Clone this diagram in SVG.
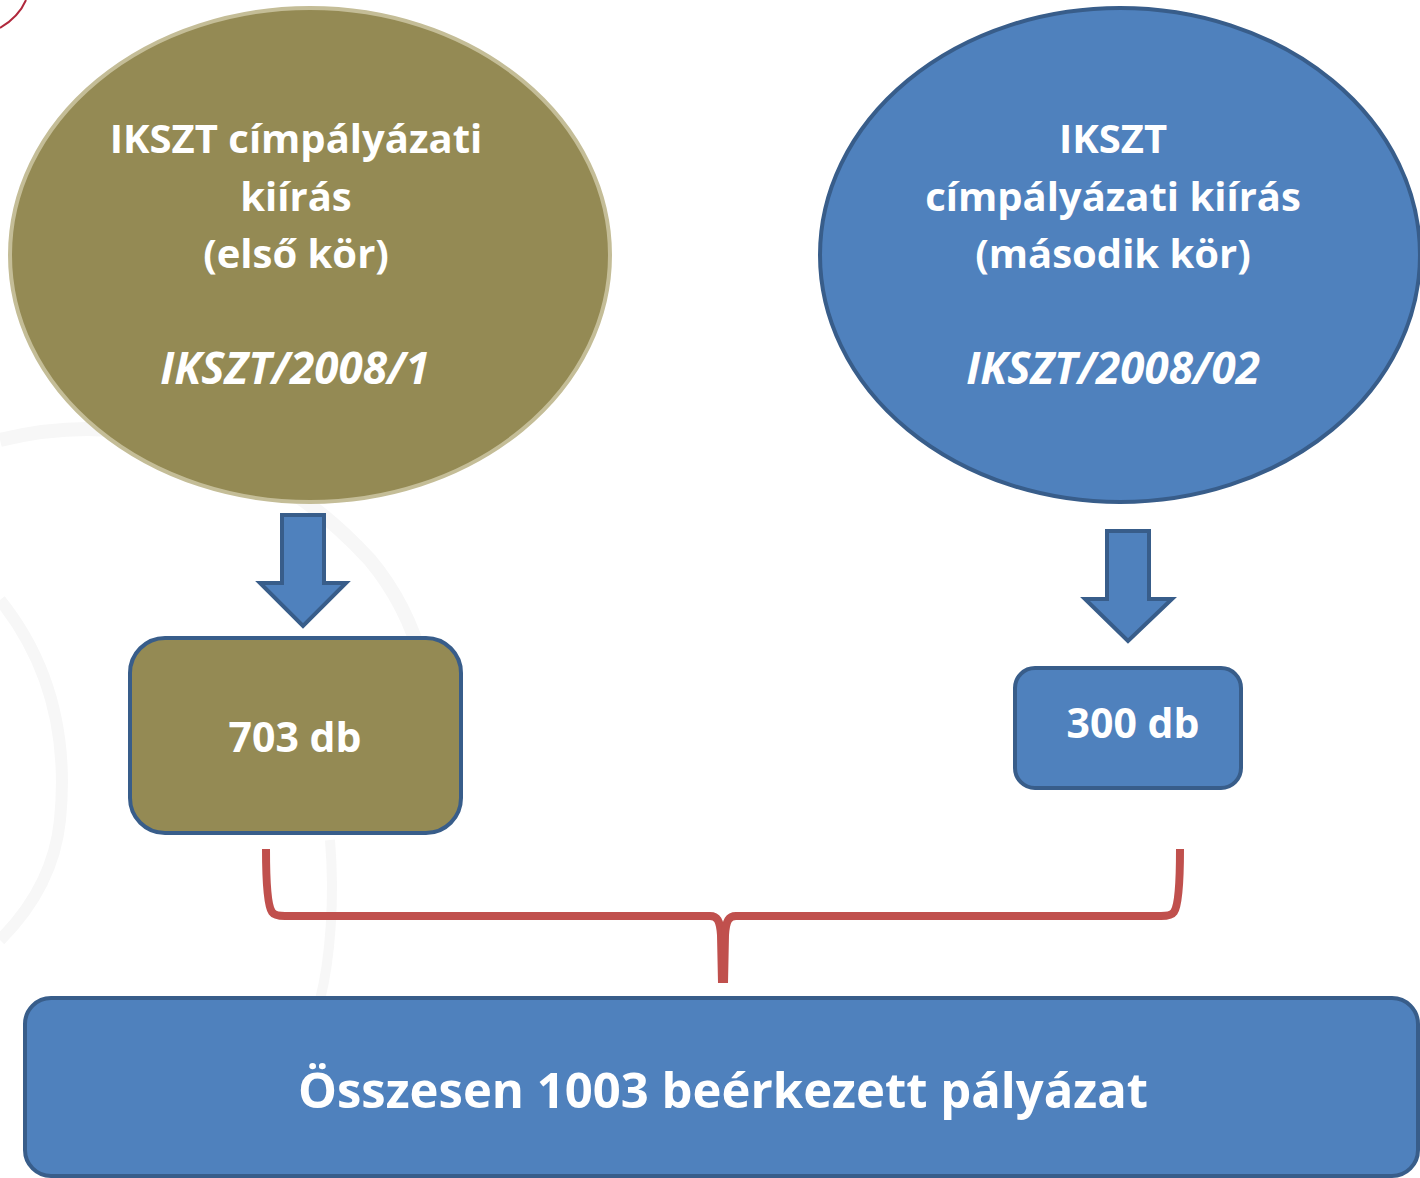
<svg xmlns="http://www.w3.org/2000/svg" width="1420" height="1178" viewBox="0 0 1420 1178">
<style>
.t{font-family:"Open Sans","Liberation Sans",sans-serif;font-weight:bold;fill:#fff;text-anchor:middle}
.it{font-style:italic}
.blue{fill:#4F81BD;stroke:#385D8A}
.olive{fill:#948A54}
.wm{fill:none;stroke:#f7f7f7}
</style>
<rect width="1420" height="1178" fill="#fff"/>
<g id="watermark">
<path class="wm" stroke-width="14" d="M0,440 C120,410 260,440 370,560 C420,620 440,700 430,780"/>
<path class="wm" stroke-width="12" d="M0,600 C40,650 70,720 60,820 C55,870 30,910 0,940"/>
<path class="wm" stroke-width="10" d="M330,840 C335,900 330,960 320,1000"/>
<path fill="none" stroke="#b0283c" stroke-width="2" d="M0,28 C10,22 20,14 26,0"/>
</g>
<g id="connectors">
<path d="M282,515 H324 V583 H346 L303,626 L260,583 H282 Z" fill="#4F81BD" stroke="#385D8A" stroke-width="4"/>
<path d="M1107,531 H1149 V599 H1172 L1128,641 L1085,599 H1107 Z" fill="#4F81BD" stroke="#385D8A" stroke-width="4"/>
<path d="M266,849 C266,880 267,905 272,912 C274,915 278,916 285,916 H710 C717,916 720,920 721,935 L722,983" fill="none" stroke="#C0504D" stroke-width="8"/>
<path d="M1180,849 C1180,880 1179,905 1174,912 C1172,915 1168,916 1161,916 H736 C729,916 726,920 725,935 L724,983" fill="none" stroke="#C0504D" stroke-width="8"/>
</g>
<g id="node-first">
<ellipse cx="310" cy="255" rx="300" ry="247" class="olive" stroke="#C4BD97" stroke-width="4"/>
<text class="t" font-size="40" x="296" y="153">IKSZT címpályázati</text>
<text class="t" font-size="40" x="296" y="211">kiírás</text>
<text class="t" font-size="40" x="296" y="268">(első kör)</text>
<text class="t it" font-size="44" x="295" y="384">IKSZT/2008/1</text>
</g>
<g id="node-second">
<ellipse cx="1120" cy="255" rx="300" ry="247" class="blue" stroke-width="4"/>
<text class="t" font-size="40" x="1113" y="153">IKSZT</text>
<text class="t" font-size="40" x="1113" y="211">címpályázati kiírás</text>
<text class="t" font-size="40" x="1113" y="268">(második kör)</text>
<text class="t it" font-size="44" x="1113" y="384">IKSZT/2008/02</text>
</g>
<g id="node-703">
<rect x="130" y="638" width="331" height="195" rx="35" class="olive" stroke="#385D8A" stroke-width="4"/>
<text class="t" font-size="41" x="295" y="752">703 db</text>
</g>
<g id="node-300">
<rect x="1015" y="668" width="226" height="120" rx="20" class="blue" stroke-width="4"/>
<text class="t" font-size="41" x="1133" y="738">300 db</text>
</g>
<g id="node-total">
<rect x="25" y="998" width="1393" height="178" rx="26" class="blue" stroke-width="4"/>
<text class="t" font-size="49" x="723" y="1108">Összesen 1003 beérkezett pályázat</text>
</g>
</svg>
